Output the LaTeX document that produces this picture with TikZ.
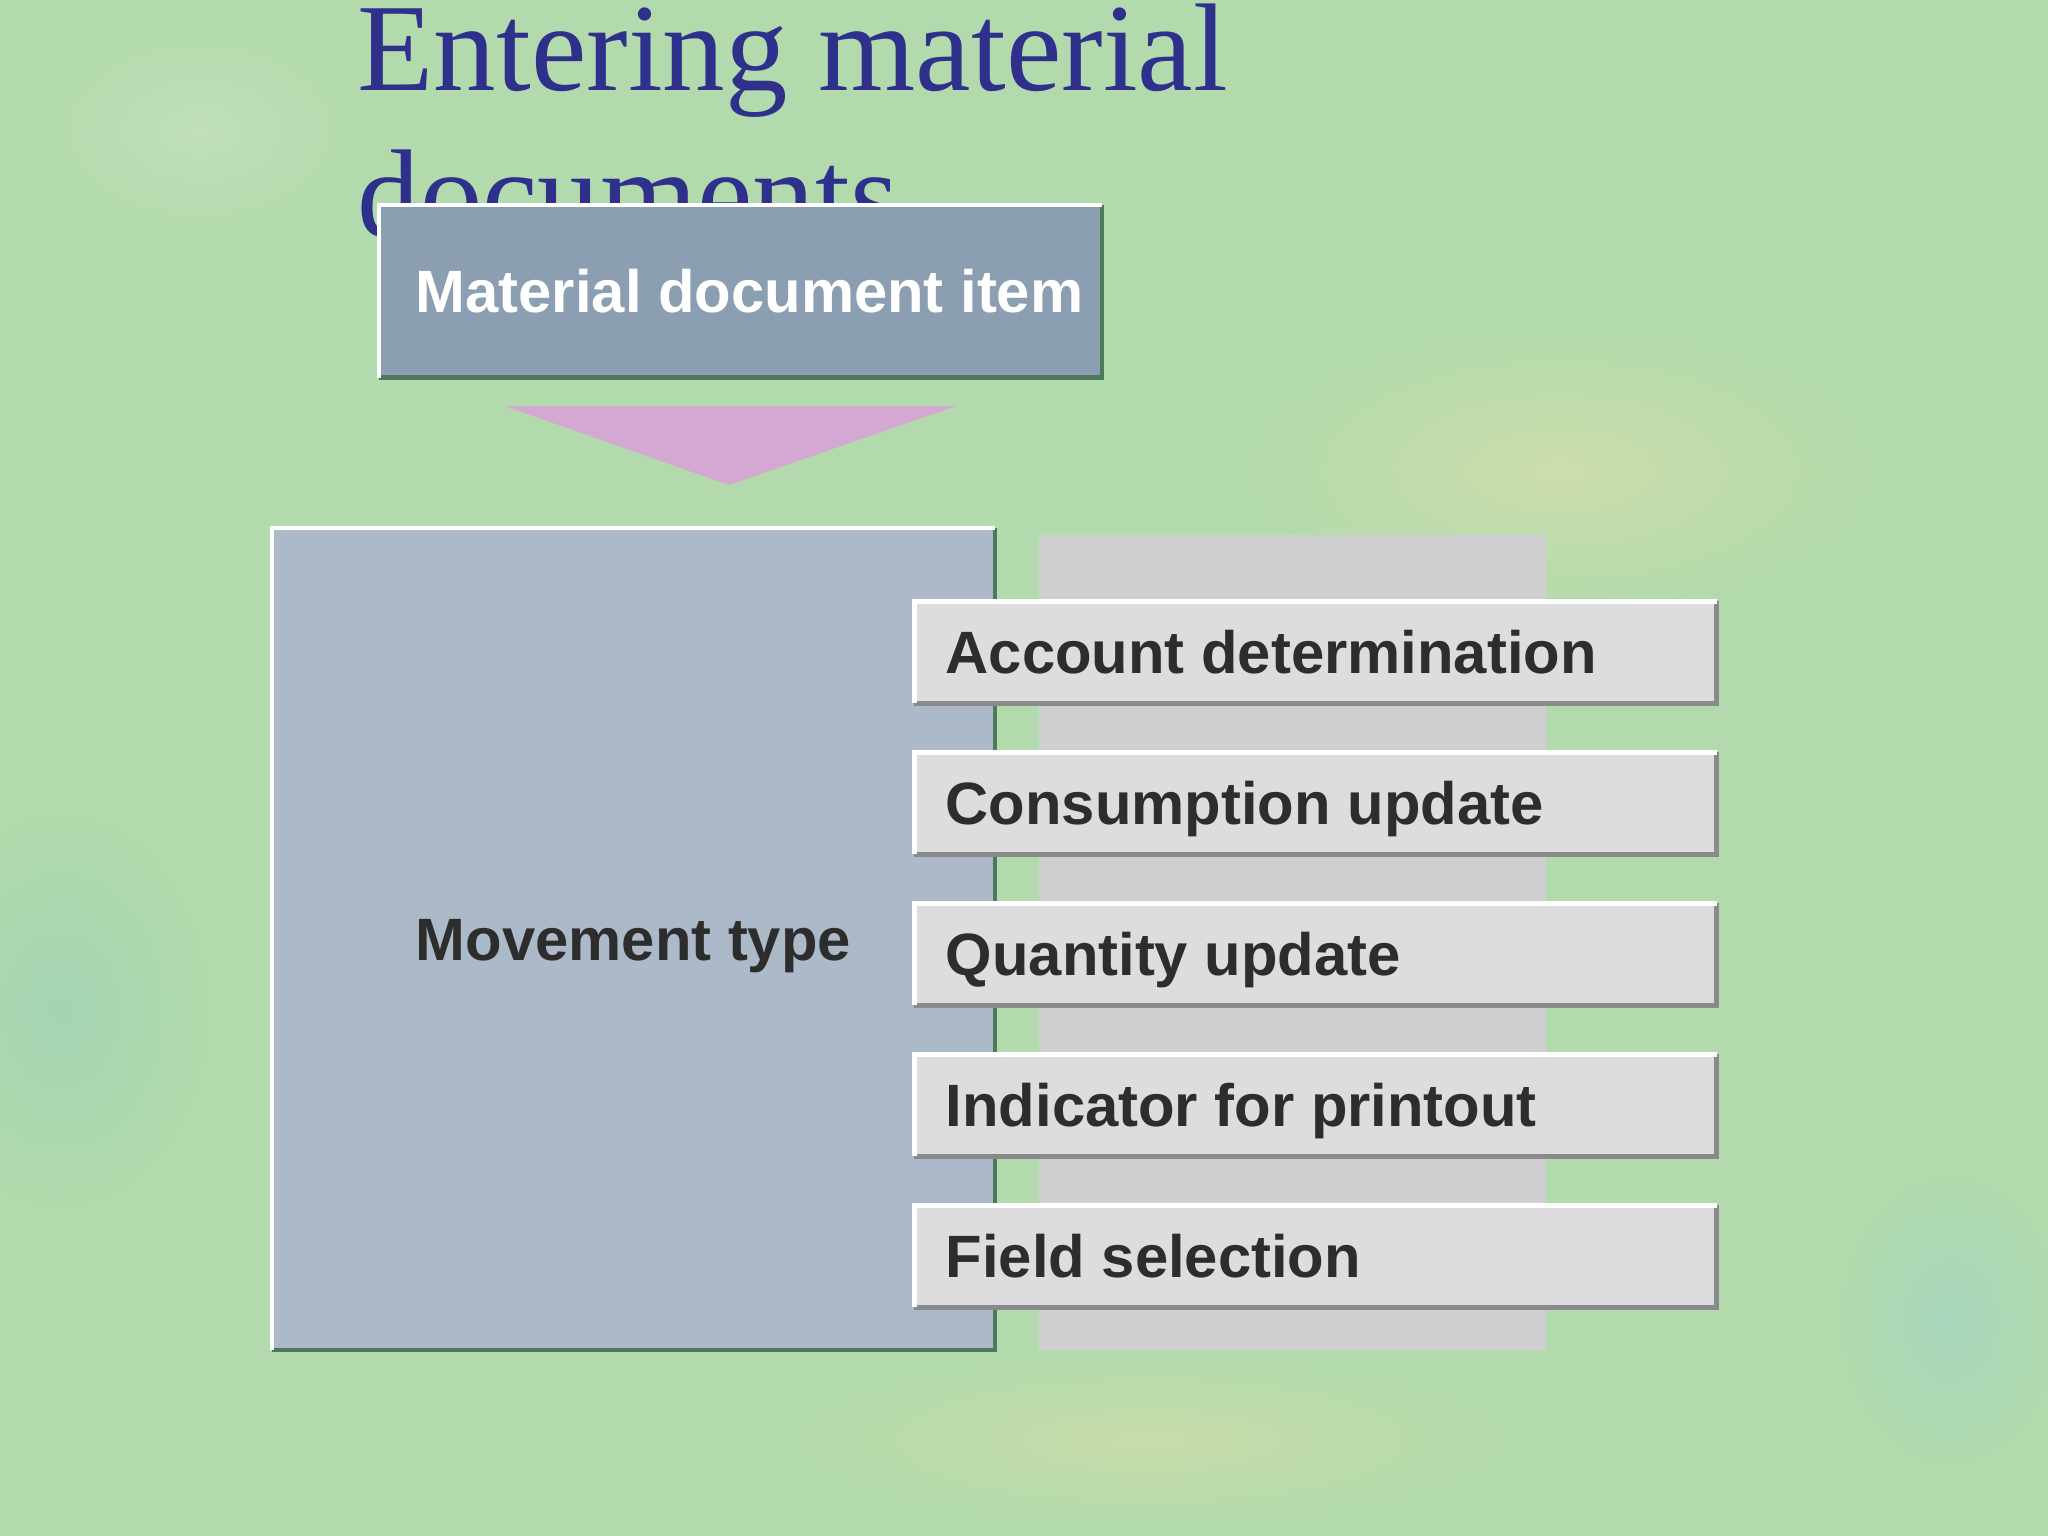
\documentclass[tikz,border=0pt]{standalone}
\usepackage{fontspec}
\setmainfont{Liberation Serif}
\setsansfont{Liberation Sans}
\definecolor{bg}{RGB}{178,218,172}
\definecolor{titleblue}{RGB}{46,48,140}
\definecolor{mdifill}{RGB}{139,158,178}
\definecolor{mvfill}{RGB}{172,185,200}
\definecolor{greyback}{RGB}{207,207,209}
\definecolor{itemfill}{RGB}{221,221,223}
\definecolor{shadowgreen}{RGB}{78,122,92}
\definecolor{shadowgrey}{RGB}{138,138,140}
\definecolor{textdark}{RGB}{45,45,45}
\definecolor{arrowpink}{RGB}{212,168,210}
\newcommand{\bevelbox}[4]{%
  \draw[#3, line width=#4] (#1.north east) -- (#1.south east) -- (#1.south west);
  \draw[#2, line width=#4] (#1.south west) -- (#1.north west) -- (#1.north east);}
\newcommand{\lbox}[2]{\makebox[#1][l]{#2}}
\begin{document}
\begin{tikzpicture}[x=0.01cm,y=-0.01cm,
  boxfont/.style={font=\sffamily\bfseries\fontsize{17}{20}\selectfont},
  titlefont/.style={font=\fontsize{35.5}{42}\selectfont, text=titleblue, inner sep=0pt},
  mdibox/.style={boxfont, fill=mdifill, text=white, anchor=north west,
    inner xsep=0.36cm, inner ysep=0pt,
    minimum height=1.71cm, text height=0.43cm, text depth=0pt},
  mvbox/.style={boxfont, fill=mvfill, text=textdark, anchor=north west,
    minimum width=7.21cm, minimum height=8.20cm, inner sep=0pt,
    text height=0.43cm, text depth=0pt},
  panelbox/.style={fill=greyback, anchor=north west, inner sep=0pt,
    minimum width=5.07cm, minimum height=8.15cm},
  itembox/.style={boxfont, fill=itemfill, text=textdark, anchor=north west,
    inner xsep=0.31cm, inner ysep=0pt,
    minimum height=1.01cm, text height=0.43cm, text depth=0pt}]
\useasboundingbox (0,0) rectangle (2048,1536);
% background
\fill[bg] (0,0) rectangle (2048,1536);
\shade[inner color={rgb,255:red,204;green,221;blue,170}, outer color=bg] (1560,470) ellipse (330 and 150);
\shade[inner color={rgb,255:red,164;green,212;blue,178}, outer color=bg] (60,1010) ellipse (150 and 200);
\shade[inner color={rgb,255:red,200;green,220;blue,170}, outer color=bg] (1150,1440) ellipse (380 and 90);
\shade[inner color={rgb,255:red,168;green,214;blue,188}, outer color=bg] (1950,1320) ellipse (120 and 160);
\shade[inner color={rgb,255:red,192;green,224;blue,186}, outer color=bg] (200,130) ellipse (170 and 110);
% title
\node[titlefont, anchor=base west] (title1) at (357,90) {Entering material};
\node[titlefont, anchor=base west] (title2) at (357,236) {documents};
% material document item
\node[mdibox] (mdi) at (379,205) {\lbox{6.49cm}{Material document item}};
\bevelbox{mdi}{white}{shadowgreen}{0.045cm}
% arrow triangle
\coordinate (tl) at (505,406);
\coordinate (tr) at (956,406);
\coordinate (tip) at (729,485);
\fill[arrowpink] (tl) -- (tr) -- (tip) -- cycle;
% movement type
\node[mvbox] (mv) at (272,528) {Movement type};
\bevelbox{mv}{white}{shadowgreen}{0.045cm}
% grey panel
\node[panelbox] (panel) at (1038,534) {};
% items
\node[itembox] (acc) at (914,601) {\lbox{7.39cm}{Account determination}};
\node[itembox] (cons) at (914,752) {\lbox{7.39cm}{Consumption update}};
\node[itembox] (qty) at (914,903) {\lbox{7.39cm}{Quantity update}};
\node[itembox] (ind) at (914,1054) {\lbox{7.39cm}{Indicator for printout}};
\node[itembox] (fld) at (914,1205) {\lbox{7.39cm}{Field selection}};
\foreach \n in {acc,cons,qty,ind,fld}{\bevelbox{\n}{white}{shadowgrey}{0.05cm}}
\end{tikzpicture}
\end{document}
